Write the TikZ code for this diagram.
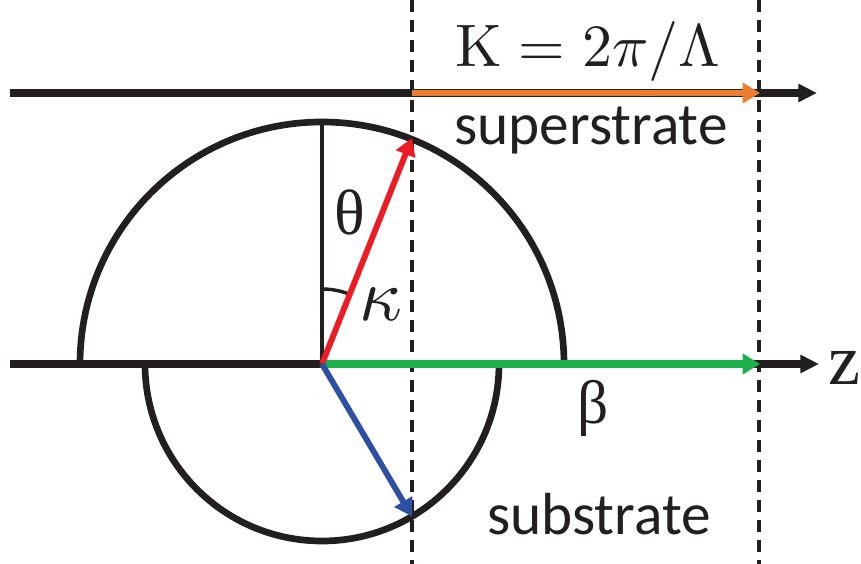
\documentclass[tikz,border=0pt]{standalone}
\usepackage{fontspec}
\usepackage{graphicx}
\newfontfamily\sansf{Carlito}
\newfontfamily\serifg{Liberation Serif}
\usetikzlibrary{arrows.meta}
\definecolor{ink}{HTML}{231F20}
\definecolor{kred}{HTML}{ED1C24}
\definecolor{kgreen}{HTML}{1DB04B}
\definecolor{korange}{HTML}{ED7D31}
\definecolor{kblue}{HTML}{2E4FA3}
\tikzset{
  axisline/.style={draw=ink, line width=5.6pt, -{Triangle[length=14pt,width=13pt]}},
  circline/.style={draw=ink, line width=5pt},
  vecline/.style={line width=4.4pt, -{Triangle[length=13pt,width=15pt]}},
  guide/.style={draw=ink, line width=2.8pt, dash pattern=on 9pt off 6pt},
  lbl/.style={inner sep=0pt, text=ink},
}
\begin{document}
\begin{tikzpicture}[x=0.75pt, y=0.75pt]
\useasboundingbox (0,0) rectangle (861,564);
% coordinates
\coordinate (C) at (322,200);
\coordinate (TL) at (10,471);
\coordinate (TR) at (817,471);
\coordinate (TK) at (412,471);
\coordinate (TE) at (760,471);
\coordinate (AL) at (10,200);
\coordinate (AR) at (819,200);
\coordinate (GE) at (760,200);
\coordinate (Rtip) at (412,426);
\coordinate (Btip) at (412,47.5);
\coordinate (Vtop) at (322,442);
\coordinate (D1t) at (412,564);
\coordinate (D1b) at (412,0);
\coordinate (D2t) at (759,564);
\coordinate (D2b) at (759,0);
% dashed guides
\draw[guide] (D1t) -- (D1b);
\draw[guide] (D2t) -- (D2b);
% circles
\draw[circline] (80,200) arc[start angle=180, end angle=0, radius=242];
\draw[circline] (145,200) arc[start angle=180, end angle=360, radius=177];
% vertical and angle mark
\draw[ink, line width=3pt] (C) -- (Vtop);
\draw[ink, line width=2.6pt] ([shift={(90:75)}]C) arc[start angle=90, end angle=68.3, radius=75];
% axes
\draw[axisline] (TL) -- (TR);
\draw[axisline] (AL) -- (AR);
% vectors
\draw[vecline, korange, line width=5.2pt] (TK) -- (TE);
\draw[vecline, kgreen, line width=5.4pt] (C) -- (GE);
\draw[vecline, kred] (C) -- (Rtip);
\draw[vecline, kblue] (C) -- (Btip);
% labels
\node[lbl, anchor=base] (klbl) at (588,497) {\scalebox{4.5}{$\mathrm{K}=2\pi/\Lambda$}};
\node[lbl, anchor=base] (sup) at (591,419) {\sansf\fontsize{44.5}{50}\selectfont superstrate};
\node[lbl, anchor=base] (sub) at (599,29) {\sansf\fontsize{44.5}{50}\selectfont substrate};
\node[lbl] (th) at (350,352) {\serifg\fontsize{48}{50}\selectfont θ};
\node[lbl] (ka) at (381,260) {\scalebox{5.6}{$\kappa$}};
\node[lbl] (be) at (593,156) {\serifg\fontsize{46}{50}\selectfont β};
\node[lbl] (zl) at (844,196) {\serifg\fontsize{54}{60}\selectfont z};
\end{tikzpicture}
\end{document}
